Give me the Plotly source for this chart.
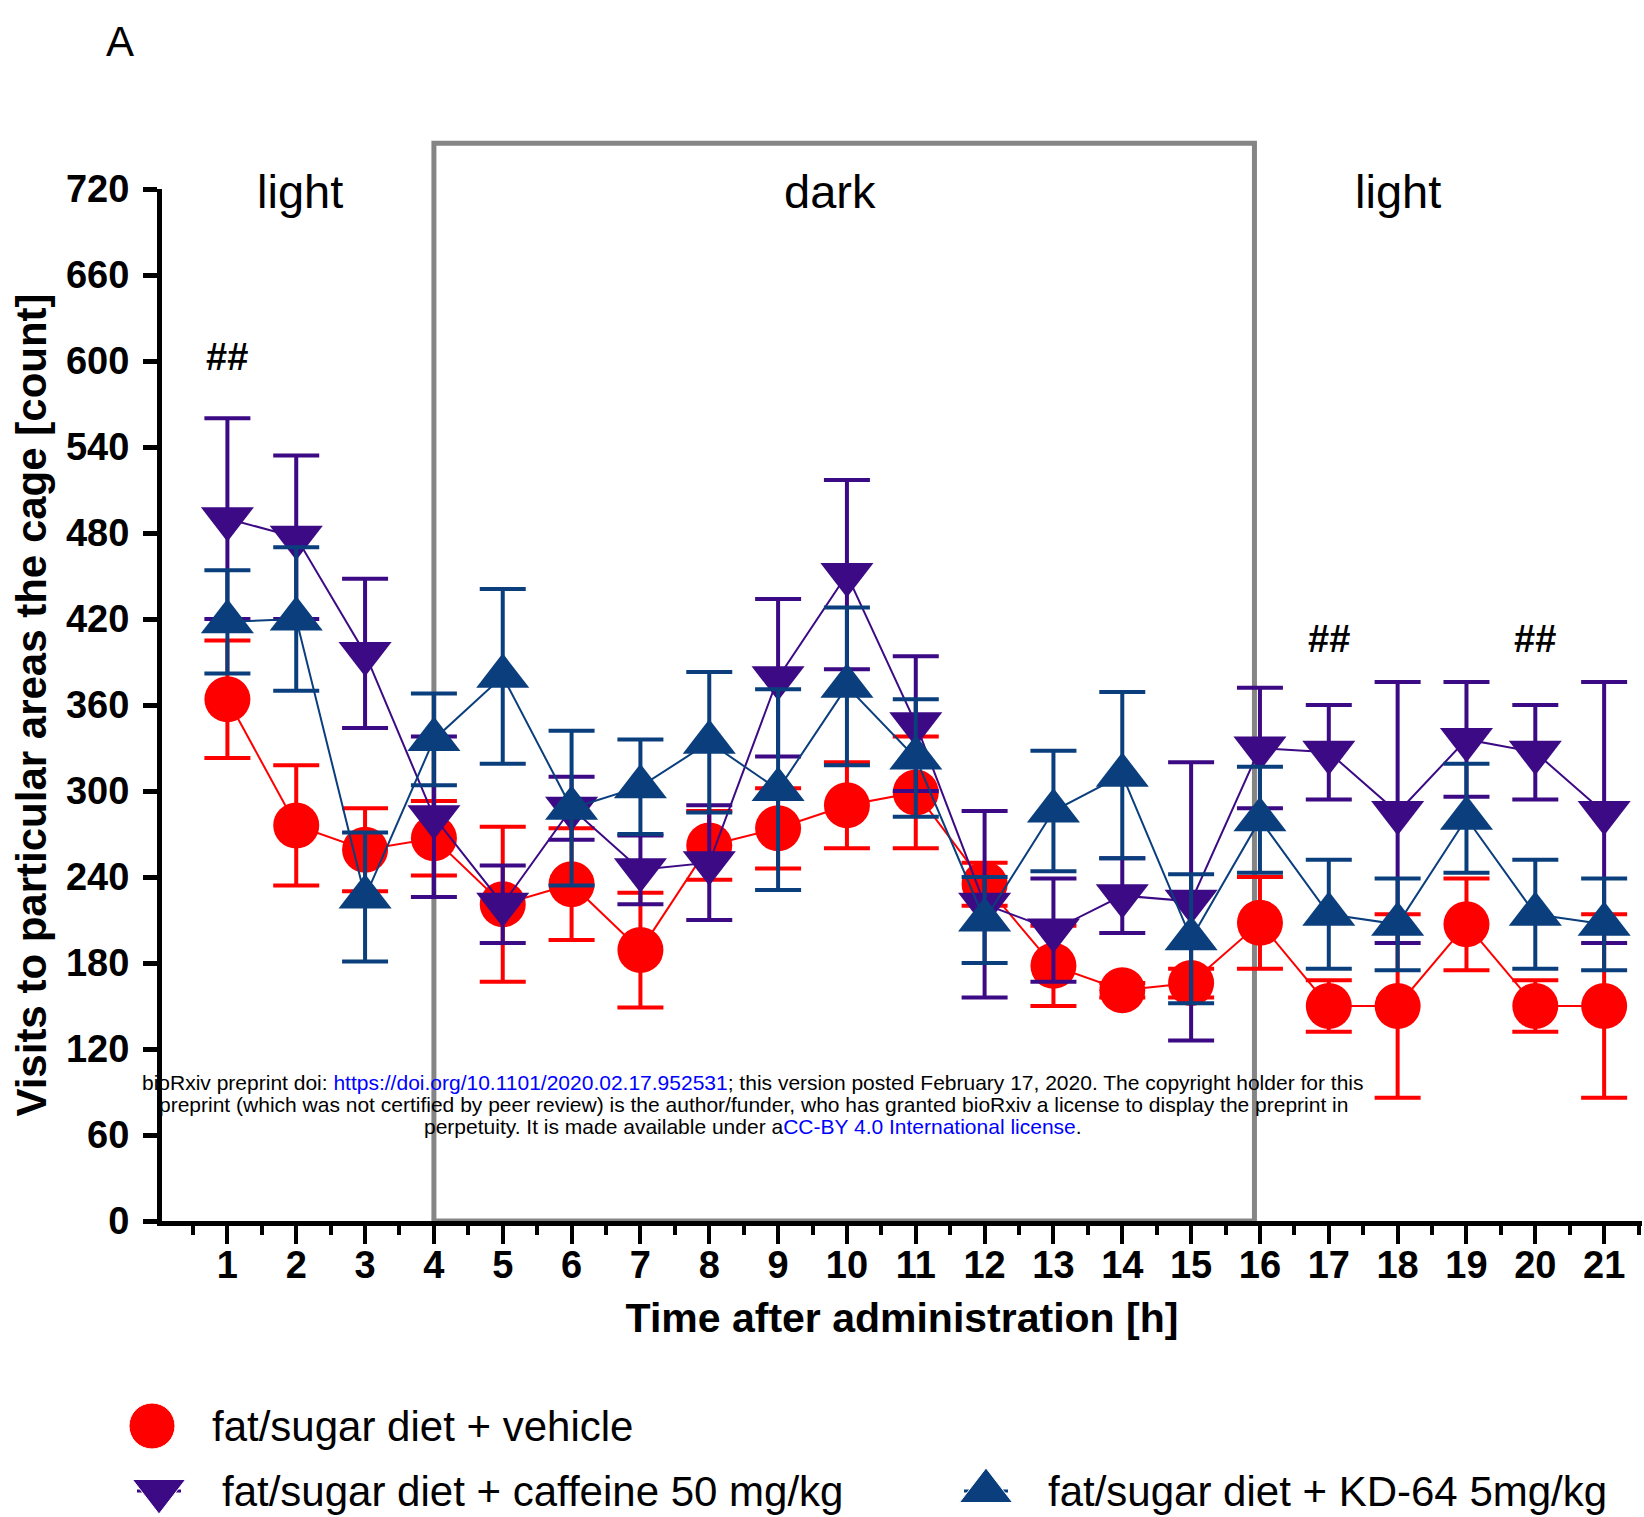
import plotly.graph_objects as go

# ---------------- data ----------------
hours = list(range(1, 22))
vehicle = [364, 276, 259, 267, 221, 235, 189, 262, 274, 290, 299, 235, 178, 161, 166, 208, 150, 150, 207, 150, 150]
vehicle_err = [41, 42, 29, 26, 54, 39, 40, 24, 28, 30, 39, 15, 28, 5, 10, 32, 18, 64, 32, 18, 64]
caffeine = [490, 477, 396, 282, 221, 288, 245, 250, 379, 451, 347, 221, 203, 227, 223, 330, 327, 285, 336, 327, 285]
caffeine_err = [70, 57, 52, 56, 27, 22, 24, 40, 55, 66, 47, 65, 36, 26, 97, 42, 33, 91, 40, 33, 91]
kd64 = [418, 420, 226, 336, 380, 288, 303, 334, 301, 373, 323, 210, 286, 311, 197, 280, 214, 207, 281, 214, 207]
kd64_err = [36, 50, 45, 32, 61, 54, 33, 49, 70, 55, 41, 30, 42, 58, 45, 37, 38, 32, 38, 38, 32]

y_ticks = list(range(0, 721, 60))
series_names = ["fat/sugar diet + vehicle",
                "fat/sugar diet + caffeine 50 mg/kg",
                "fat/sugar diet + KD-64 5mg/kg"]
phase_labels = ["light", "dark", "light"]
phase_x = [2.05, 9.75, 18.0]
dark_start, dark_end = 4, 15.92
sig_hours = [1, 17, 20]
sig_y = [603, 406, 406]

RED = "#FF0000"
PURPLE = "#3C0A84"
BLUE = "#0B3E7D"

# ---------------- layout geometry (pixels) ----------------
W, H = 1644, 1517
X_RANGE = [0.05, 21.55]
Y_RANGE = [0, 720]
xdom = [162 / W, 1642 / W]
ydom = [1 - 1221 / H, 1 - 189 / H]
FONT = "Liberation Sans, Arial, sans-serif"


def xpaper(v):
    return xdom[0] + (v - X_RANGE[0]) / (X_RANGE[1] - X_RANGE[0]) * (xdom[1] - xdom[0])


def ypaper(v):
    return ydom[0] + (v - Y_RANGE[0]) / (Y_RANGE[1] - Y_RANGE[0]) * (ydom[1] - ydom[0])


fig = go.Figure()


def add_series(y, err, color, symbol, name):
    fig.add_trace(go.Scatter(
        x=hours, y=y, name=name, mode="lines+markers",
        line=dict(color=color, width=2),
        marker=dict(symbol=symbol, size=46, color=color, opacity=1),
        error_y=dict(type="data", array=err, visible=True, color=color,
                     thickness=4, width=23),
        showlegend=False, xaxis="x", yaxis="y",
    ))


add_series(vehicle, vehicle_err, RED, "circle", series_names[0])
add_series(caffeine, caffeine_err, PURPLE, "triangle-down", series_names[1])
add_series(kd64, kd64_err, BLUE, "triangle-up", series_names[2])

# ---------------- custom legend (drawn on a hidden pixel axis) ----------------
leg_items = [
    (152, 1426, RED, "circle", 210),
    (159, 1491, PURPLE, "triangle-down", 220),
    (986, 1491, BLUE, "triangle-up", 1046),
]
annotations = []
for (lx, ly, col, sym, tx), name in zip(leg_items, series_names):
    fig.add_trace(go.Scatter(
        x=[lx - 22, lx, lx + 22], y=[ly, ly, ly], mode="lines+markers",
        line=dict(color=col, width=3),
        marker=dict(symbol=sym, size=[0, 46, 0], color=col, opacity=1),
        showlegend=False, xaxis="x2", yaxis="y2", hoverinfo="skip",
    ))
    annotations.append(dict(
        x=tx / W, y=1 - ly / H, xref="paper", yref="paper", text=name,
        showarrow=False, xanchor="left", yanchor="middle",
        font=dict(family=FONT, size=42, color="black"),
    ))

# phase labels
for lab, px in zip(phase_labels, phase_x):
    annotations.append(dict(x=px, y=718, xref="x", yref="y", text=lab,
                            showarrow=False, xanchor="center", yanchor="middle",
                            font=dict(family=FONT, size=47, color="black")))
# significance marks
for hx, hy in zip(sig_hours, sig_y):
    annotations.append(dict(x=hx, y=hy, xref="x", yref="y", text="##",
                            showarrow=False, xanchor="center", yanchor="middle",
                            font=dict(family=FONT, size=38, color="black", weight="bold")))
# panel letter
annotations.append(dict(x=120 / W, y=1 - 42 / H, xref="paper", yref="paper", text="A",
                        showarrow=False, xanchor="center", yanchor="middle",
                        font=dict(family=FONT, size=42, color="black")))

# bioRxiv notice
notice = [
    "bioRxiv preprint doi: <span style='color:#0000FF'>https://doi.org/10.1101/2020.02.17.952531</span>; "
    "this version posted February 17, 2020. The copyright holder for this",
    "preprint (which was not certified by peer review) is the author/funder, who has granted bioRxiv a license to display the preprint in",
    "perpetuity. It is made available under a<span style='color:#0000FF'>CC-BY 4.0 International license</span>.",
]
for i, line in enumerate(notice):
    annotations.append(dict(x=753 / W, y=1 - (1082 + 22 * i) / H, xref="paper", yref="paper",
                            text=line, showarrow=False, xanchor="center", yanchor="middle",
                            font=dict(family=FONT, size=21, color="black")))

shapes = [dict(type="rect", xref="paper", yref="paper",
               x0=xpaper(dark_start), x1=xpaper(dark_end), y0=ypaper(0), y1=ypaper(752),
               line=dict(color="#858585", width=5), fillcolor="rgba(0,0,0,0)", layer="below")]

fig.update_layout(
    template="none",
    width=W, height=H, autosize=False,
    margin=dict(l=0, r=0, t=0, b=0, pad=0),
    paper_bgcolor="white", plot_bgcolor="rgba(0,0,0,0)",
    font=dict(family=FONT, color="black"),
    xaxis=dict(
        domain=xdom, range=X_RANGE, anchor="y", automargin=False,
        tickmode="array", tickvals=hours, ticktext=[str(h) for h in hours],
        ticks="outside", ticklen=18, tickwidth=4, tickcolor="black",
        showline=True, linewidth=5, linecolor="black",
        showgrid=False, zeroline=False,
        minor=dict(tickmode="array", tickvals=[h - 0.5 for h in hours] + [21.5],
                   ticks="outside", ticklen=9, tickwidth=4, tickcolor="black", showgrid=False),
        tickfont=dict(family=FONT, size=38, color="black", weight="bold"),
        ticklabelstandoff=-12,
        title=dict(text="Time after administration [h]", standoff=20,
                   font=dict(family=FONT, size=41, color="black", weight="bold")),
    ),
    yaxis=dict(
        domain=ydom, range=Y_RANGE, anchor="x", automargin=False,
        tickmode="array", tickvals=y_ticks,
        ticks="outside", ticklen=14, tickwidth=5, tickcolor="black",
        showline=True, linewidth=5, linecolor="black",
        showgrid=False, zeroline=False,
        tickfont=dict(family=FONT, size=38, color="black", weight="bold"),
        ticklabelstandoff=6,
        title=dict(text="Visits to particular areas the cage [count]", standoff=8,
                   font=dict(family=FONT, size=42, color="black", weight="bold")),
    ),
    xaxis2=dict(domain=[0, 1], range=[0, W], anchor="y2", visible=False, automargin=False),
    yaxis2=dict(domain=[0, 1], range=[H, 0], anchor="x2", visible=False, automargin=False),
    annotations=annotations,
    shapes=shapes,
    showlegend=False,
)

fig.write_html("out.html")
